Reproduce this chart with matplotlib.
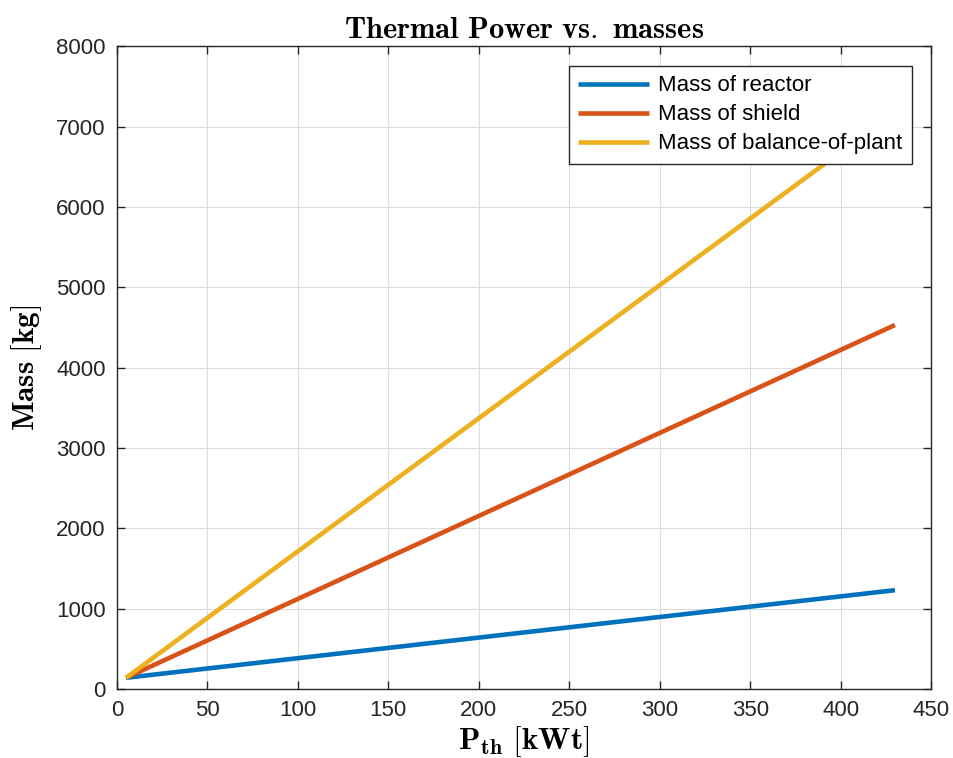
import matplotlib.pyplot as plt

# Thermal power [kWt] and masses [kg] (linear trends)
p_th = [5, 430]
mass_reactor = [140, 1230]
mass_shield = [140, 4530]
mass_bop = [140, 7180]

labels = ["Mass of reactor", "Mass of shield", "Mass of balance-of-plant"]
colors = ["#0072BD", "#D95319", "#EDB120"]

plt.rcParams['font.family'] = ['Liberation Sans', 'DejaVu Sans']
plt.rcParams['mathtext.fontset'] = 'cm'

fig = plt.figure(figsize=(9.54, 7.58), dpi=100)
ax = fig.add_axes([0.1226, 0.091, 0.8534, 0.848])

for y, lab, c in zip([mass_reactor, mass_shield, mass_bop], labels, colors):
    ax.plot(p_th, y, color=c, linewidth=3.3, label=lab, solid_capstyle='butt')

ax.set_xlim(0, 450)
ax.set_ylim(0, 8000)
ax.set_xticks(range(0, 451, 50))
ax.set_yticks(range(0, 8001, 1000))
ax.grid(True, color='#dcdcdc', linewidth=0.8)
ax.set_axisbelow(True)
ax.tick_params(direction='in', top=True, right=True, labelsize=16, colors='#262626',
               length=6, width=1.0, pad=8)
for sp in ax.spines.values():
    sp.set_color('#262626')
    sp.set_linewidth(1.0)

ax.set_title(r'$\mathbf{Thermal\ Power\ vs.\ masses}$', fontsize=22, pad=6)
ax.set_xlabel(r'$\mathbf{P_{th}\ [kWt]}$', fontsize=22.5, labelpad=2)
ax.set_ylabel(r'$\mathbf{Mass\ [kg]}$', fontsize=22.5, labelpad=9)

leg = ax.legend(loc='upper right', fontsize=16, frameon=True, fancybox=False,
                framealpha=1.0, edgecolor='#262626', handlelength=3.2,
                borderpad=0.42, labelspacing=0.36, handletextpad=0.4,
                borderaxespad=0, bbox_to_anchor=(0.976, 0.969))
leg.get_frame().set_linewidth(1.0)

fig.savefig('out.png', dpi=100, facecolor='white')
